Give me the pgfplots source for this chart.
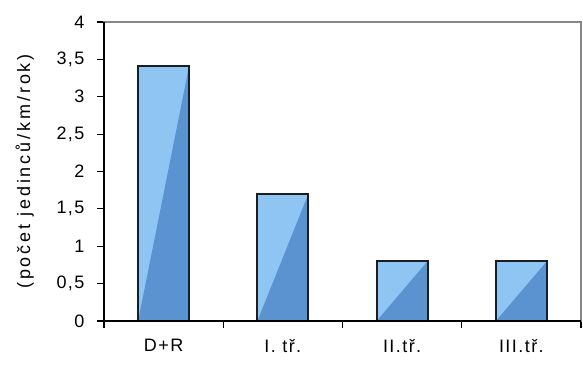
\documentclass[border=0pt]{standalone}
\usepackage{fontspec}
\setmainfont{Liberation Sans}[LetterSpace=8]
\newfontfamily\labelfont{Liberation Sans}[LetterSpace=16]
\usepackage{pgfplots}
\pgfplotsset{compat=1.18}

\definecolor{barlight}{RGB}{142,197,242}
\definecolor{bardark}{RGB}{90,147,208}
\definecolor{barline}{RGB}{25,30,35}
\definecolor{framegray}{RGB}{135,135,135}

% bar filled in two tones, split along its rising diagonal
% (low-level pgf only, so no TikZ options are re-applied inside the path picture)
\newcommand\splitfill{%
  \pgfsetfillcolor{barlight}%
  \pgfpathrectanglecorners{\pgfpointanchor{path picture bounding box}{south west}}{\pgfpointanchor{path picture bounding box}{north east}}%
  \pgfusepath{fill}%
  \pgfsetfillcolor{bardark}%
  \pgfpathmoveto{\pgfpointanchor{path picture bounding box}{south west}}%
  \pgfpathlineto{\pgfpointanchor{path picture bounding box}{south east}}%
  \pgfpathlineto{\pgfpointanchor{path picture bounding box}{north east}}%
  \pgfpathclose
  \pgfusepath{fill}%
}
\tikzset{
  splitbar/.style={draw=none, path picture={\splitfill}},
  baroutline/.style={draw=barline, line width=1.8pt, fill=none},
}

\begin{document}
\begin{tikzpicture}[font=\fontsize{18}{21}\selectfont]
\begin{axis}[
  scale only axis, width=477pt, height=299pt,
  xmin=-0.5, xmax=3.5, ymin=0, ymax=4,
  ytick={0,0.5,1,1.5,2,2.5,3,3.5,4},
  xtick={-0.5,0.5,1.5,2.5,3.5}, xticklabels={},
  extra x ticks={0,1,2,3},
  extra x tick labels={D+R, I. tř., II.tř., III.tř.},
  extra x tick style={major tick length=0pt, tick label style={yshift=-15pt}},
  xtick pos=bottom, ytick pos=left,
  tick align=outside, major tick length=7pt,
  tick style={black, line width=1.2pt},
  axis line style={framegray, line width=1.2pt},
  /pgf/number format/assume math mode=true,
  /pgf/number format/use comma,
  yticklabel style={xshift=-9pt},
  ylabel={\labelfont (počet jedinců/km/rok)},
  every axis y label/.style={at={(axis description cs:-0.166,0.5)}, rotate=90, anchor=center},
  ybar, bar width=51pt, bar shift=0pt,
  clip=false,
]
% fills
\addplot[splitbar] coordinates {(0,3.41)};
\addplot[splitbar] coordinates {(1,1.70)};
\addplot[splitbar] coordinates {(2,0.80)};
\addplot[splitbar] coordinates {(3,0.80)};
% outlines
\addplot[baroutline] coordinates {(0,3.41) (1,1.70) (2,0.80) (3,0.80)};
\draw[black, line width=1.5pt] (rel axis cs:0,1) -- (rel axis cs:0,0) -- (rel axis cs:1,0);
\end{axis}
\pgfresetboundingbox
\path[use as bounding box] ([shift={(-104pt,-44pt)}]current axis.south west) rectangle ([shift={(2pt,22pt)}]current axis.north east);
\end{tikzpicture}
\end{document}
